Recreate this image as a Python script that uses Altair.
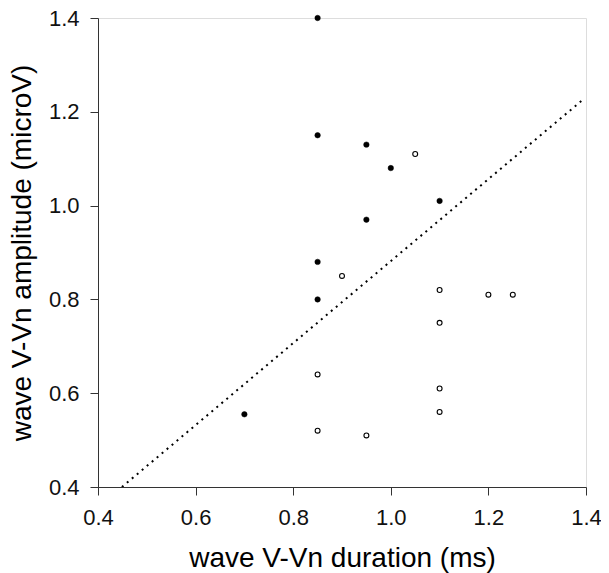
import altair as alt
import pandas as pd

# closed circles
filled_x = [0.85, 0.85, 0.95, 1.00, 1.10, 0.95, 0.85, 0.85, 0.70]
filled_y = [1.40, 1.15, 1.13, 1.08, 1.01, 0.97, 0.88, 0.80, 0.555]
# open circles
open_x = [1.05, 0.90, 1.10, 1.20, 1.25, 1.10, 0.85, 1.10, 1.10, 0.85, 0.95]
open_y = [1.11, 0.85, 0.82, 0.81, 0.81, 0.75, 0.64, 0.61, 0.56, 0.52, 0.51]
# dotted reference line end points
line_x = [0.449, 1.395]
line_y = [0.40, 1.227]

tick_vals = [0.4, 0.6, 0.8, 1.0, 1.2, 1.4]

df_f = pd.DataFrame({"x": filled_x, "y": filled_y})
df_o = pd.DataFrame({"x": open_x, "y": open_y})
df_l = pd.DataFrame({"x": line_x, "y": line_y})

FONT = "Liberation Sans"

xs = alt.Scale(domain=[0.4, 1.4], nice=False, zero=False)
ys = alt.Scale(domain=[0.4, 1.4], nice=False, zero=False)

xax = alt.Axis(values=tick_vals, format=".1f", grid=False, tickSize=8,
               labelPadding=12, labelFontSize=22, titleFontSize=28,
               titleFontWeight="normal", titlePadding=16, labelFont=FONT,
               titleFont=FONT, domainColor="#333333", tickColor="#333333",
               labelColor="#111111", titleColor="#000000", labelFlush=False)
yax = alt.Axis(values=tick_vals, format=".1f", grid=False, tickSize=8,
               labelPadding=11, labelFontSize=22, titleFontSize=28,
               titleFontWeight="normal", titlePadding=12, labelFont=FONT,
               titleFont=FONT, domainColor="#333333", tickColor="#333333",
               labelColor="#111111", titleColor="#000000", labelFlush=False)

line = alt.Chart(df_l).mark_line(color="black", strokeWidth=2,
                                 strokeDash=[2, 4.5], clip=True).encode(
    x=alt.X("x:Q", scale=xs, axis=xax, title="wave V-Vn duration (ms)"),
    y=alt.Y("y:Q", scale=ys, axis=yax, title="wave V-Vn amplitude (microV)"),
)

filled = alt.Chart(df_f).mark_point(shape="circle", filled=True, fill="black",
                                    stroke="black", strokeWidth=0.5,
                                    size=30, opacity=1).encode(
    x="x:Q", y="y:Q")

opened = alt.Chart(df_o).mark_point(shape="circle", filled=False, fill="white",
                                    fillOpacity=1, stroke="black",
                                    strokeWidth=1.1, size=24,
                                    opacity=1).encode(
    x="x:Q", y="y:Q")

chart = alt.layer(line, filled, opened).properties(
    width=488, height=469,
    autosize=alt.AutoSizeParams(type="none"),
    padding={"left": 90, "top": 10, "right": 15, "bottom": 86},
).configure_view(stroke=None).configure(background="white")

chart.save("out.html", embed_options={"renderer": "svg", "actions": False})
